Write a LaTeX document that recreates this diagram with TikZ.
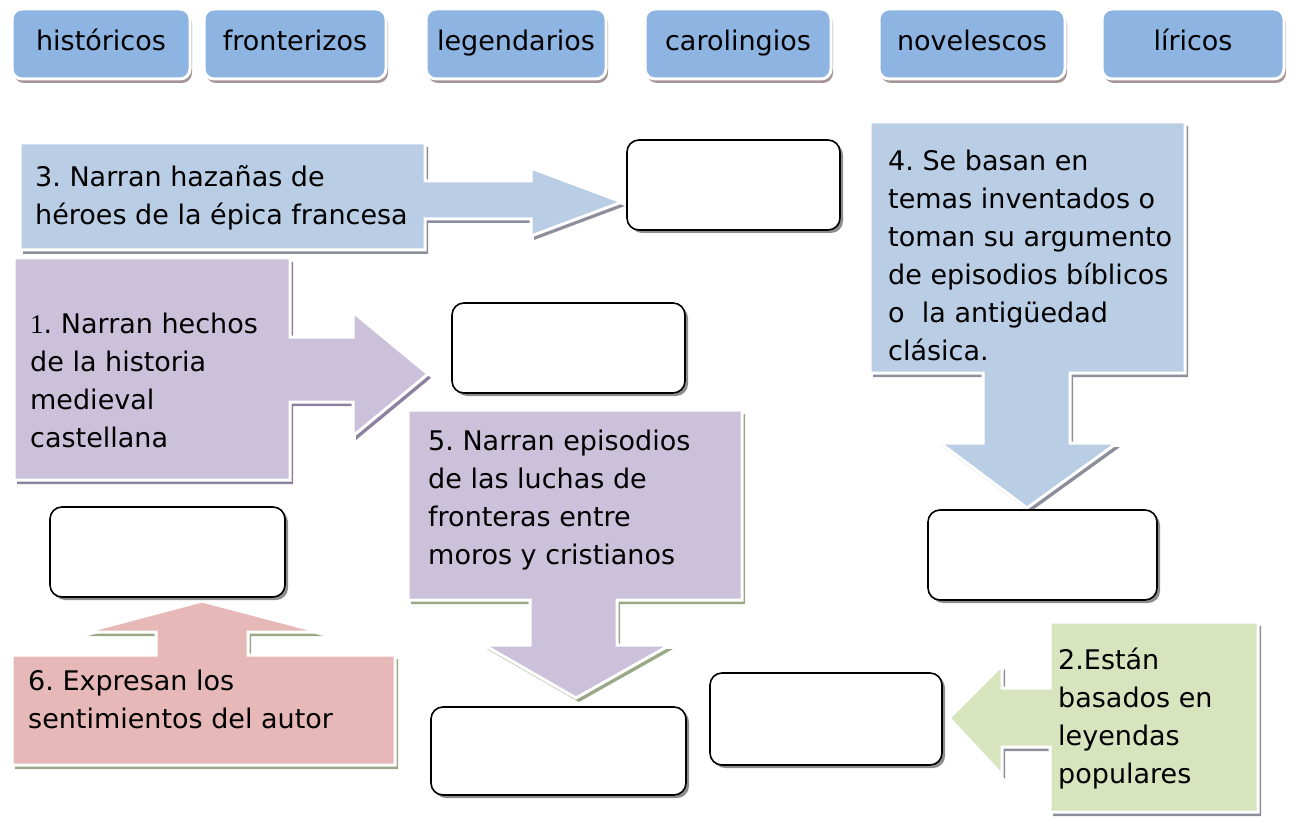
\documentclass[tikz,border=0pt]{standalone}
\usepackage{fontspec}
\setmainfont{DejaVu Sans}
\newfontfamily\numfont{Liberation Serif}
\frenchspacing

\newcommand{\txtsize}{\fontsize{27}{38}\selectfont}
\definecolor{btnblue}{RGB}{142,180,226}
\definecolor{btnshade}{RGB}{165,148,148}
\definecolor{paleblue}{RGB}{185,205,229}
\definecolor{lilac}{RGB}{204,193,218}
\definecolor{rose}{RGB}{230,185,184}
\definecolor{sage}{RGB}{215,228,189}
\definecolor{greyshade}{RGB}{140,142,155}
\definecolor{lilacshade}{RGB}{140,130,160}
\definecolor{oliveshade}{RGB}{155,168,135}

\begin{document}
\begin{tikzpicture}[x=1pt, y=-1pt,
	button/.style={fill=btnblue, draw=white, line width=3pt, rounded corners=10pt,
		minimum height=70pt, font=\txtsize, text height=20pt, text depth=6pt,
		preaction={fill=btnshade, transform canvas={shift={(2pt,-4pt)}}}},
	blockarrow/.style 2 args={fill=#1, draw=white, line width=3pt,
		preaction={fill=#2, transform canvas={shift={(3pt,-4pt)}}}},
	answerbox/.style={fill=white, draw=black, line width=1.6pt, rounded corners=12pt,
		preaction={fill=black!45, transform canvas={shift={(3pt,-3pt)}}}},
	caption/.style={anchor=north west, inner sep=0pt, align=left, font=\txtsize}]

	\useasboundingbox (0,0) rectangle (1292,818);

	% buttons
	\node [button, minimum width=178pt] (hist) at (101,44) {históricos};
	\node [button, minimum width=182pt] (front) at (295,44) {fronterizos};
	\node [button, minimum width=180pt] (leg) at (516,44) {legendarios};
	\node [button, minimum width=186pt] (carol) at (738,44) {carolingios};
	\node [button, minimum width=186pt] (novel) at (972,44) {novelescos};
	\node [button, minimum width=182pt] (lir) at (1193,44) {líricos};

	% arrows
	\draw [blockarrow={paleblue}{greyshade}] (20,143) -- (425,143) -- (425,181) -- (531,181)
		-- (531,168) -- (622,202) -- (531,236) -- (531,219) -- (425,219) -- (425,250) -- (20,250) -- cycle;
	\draw [blockarrow={lilac}{lilacshade}] (14,258) -- (290,258) -- (290,337) -- (353,337)
		-- (353,312) -- (428,374) -- (353,436) -- (353,402) -- (290,402) -- (290,480) -- (14,480) -- cycle;
	\draw [blockarrow={paleblue}{greyshade}] (870,122) -- (1185,122) -- (1185,373) -- (1070,373)
		-- (1070,443) -- (1117,443) -- (1027,508) -- (940,443) -- (983,443) -- (983,373) -- (870,373) -- cycle;
	\draw [blockarrow={lilac}{oliveshade}] (408,410) -- (742,410) -- (742,600) -- (617,600)
		-- (617,645) -- (670,645) -- (576,698) -- (484,645) -- (530,645) -- (530,600) -- (408,600) -- cycle;
	\draw [blockarrow={rose}{oliveshade}] (12,655) -- (156,655) -- (156,632) -- (85,632)
		-- (202,601) -- (320,632) -- (248,632) -- (248,655) -- (395,655) -- (395,765) -- (12,765) -- cycle;
	\draw [blockarrow={sage}{greyshade}] (1050,622) -- (1258,622) -- (1258,812) -- (1050,812)
		-- (1050,747) -- (1002,747) -- (1002,775) -- (949,718) -- (1002,665) -- (1002,688) -- (1050,688) -- cycle;

	% answer boxes
	\node [answerbox, minimum width=213pt, minimum height=90pt] (ansA) at (733.5,185) {};
	\node [answerbox, minimum width=233pt, minimum height=90pt] (ansB) at (568.5,348) {};
	\node [answerbox, minimum width=229pt, minimum height=90pt] (ansC) at (1042.5,555) {};
	\node [answerbox, minimum width=255pt, minimum height=88pt] (ansD) at (558.5,751) {};
	\node [answerbox, minimum width=235pt, minimum height=90pt] (ansE) at (167.5,552) {};
	\node [answerbox, minimum width=232pt, minimum height=92pt] (ansF) at (826,719) {};

	% captions
	\node [caption] (cap3) at (35,165) {3. Narran hazañas de\\héroes de la épica francesa};
	\node [caption] (cap1) at (30,313) {{\numfont 1}. Narran hechos\\de la historia\\medieval\\castellana};
	\node [caption] (cap4) at (888,150) {4. Se basan en\\temas inventados o\\toman su argumento\\de episodios bíblicos\\o \ la antigüedad\\clásica.};
	\node [caption] (cap5) at (428,430) {5. Narran episodios\\de las luchas de\\fronteras entre\\moros y cristianos};
	\node [caption] (cap6) at (28,670) {6. Expresan los\\sentimientos del autor};
	\node [caption] (cap2) at (1058,648) {2.Están\\basados en\\leyendas\\populares};
\end{tikzpicture}
\end{document}
